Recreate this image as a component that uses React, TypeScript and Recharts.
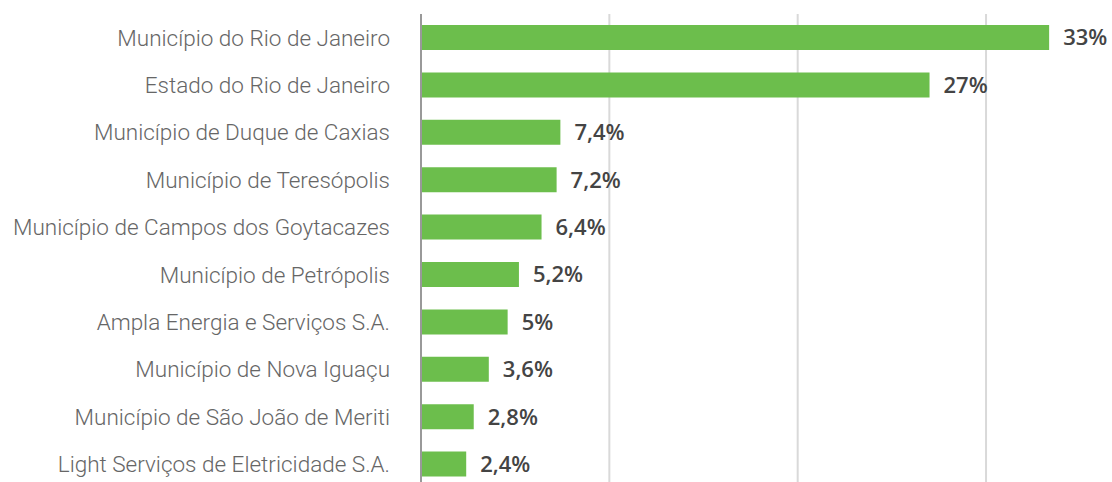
import React from "react";
import { Bar, BarChart, CartesianGrid, LabelList, XAxis, YAxis } from "recharts";

const categories = [
  "Município do Rio de Janeiro",
  "Estado do Rio de Janeiro",
  "Município de Duque de Caxias",
  "Município de Teresópolis",
  "Município de Campos dos Goytacazes",
  "Município de Petrópolis",
  "Ampla Energia e Serviços S.A.",
  "Município de Nova Iguaçu",
  "Município de São João de Meriti",
  "Light Serviços de Eletricidade S.A.",
];

// bar lengths
const values = [33.35, 27, 7.4, 7.2, 6.4, 5.2, 4.6, 3.6, 2.8, 2.4];

// printed labels
const labels = ["33%", "27%", "7,4%", "7,2%", "6,4%", "5,2%", "5%", "3,6%", "2,8%", "2,4%"];

const xTicks = [0, 10, 20, 30];

const data = categories.map((name, i) => ({ name, value: values[i], label: labels[i] }));

const App = () => {
  return (
    <div style={{ position: "absolute", left: 0, top: 0, width: 1112, height: 482, overflow: "hidden" }}>
      <BarChart
        width={1116}
        height={490}
        data={data}
        layout="vertical"
        margin={{ top: 14, right: 0, bottom: 2, left: 0 }}
      >
        <CartesianGrid horizontal={false} stroke="#d9d9d9" strokeWidth={2} />
        <XAxis type="number" hide domain={[0, 36.9]} ticks={xTicks} />
        <YAxis
          type="category"
          dataKey="name"
          width={421}
          tickLine={false}
          tickSize={0}
          tickMargin={31}
          axisLine={{ stroke: "#999", strokeWidth: 2 }}
          tick={{ fill: "#666", fontSize: 22.5, fontFamily: "Roboto", fontWeight: 300 }}
          interval={0}
        />
        <Bar dataKey="value" fill="#6cbe4c" barSize={25} isAnimationActive={false}>
          <LabelList
            dataKey="label"
            position="right"
            offset={14}
            fill="#444"
            fontSize={22}
            fontFamily="Open Sans"
            fontWeight={600}
          />
        </Bar>
      </BarChart>
    </div>
  );
};

export default App;
